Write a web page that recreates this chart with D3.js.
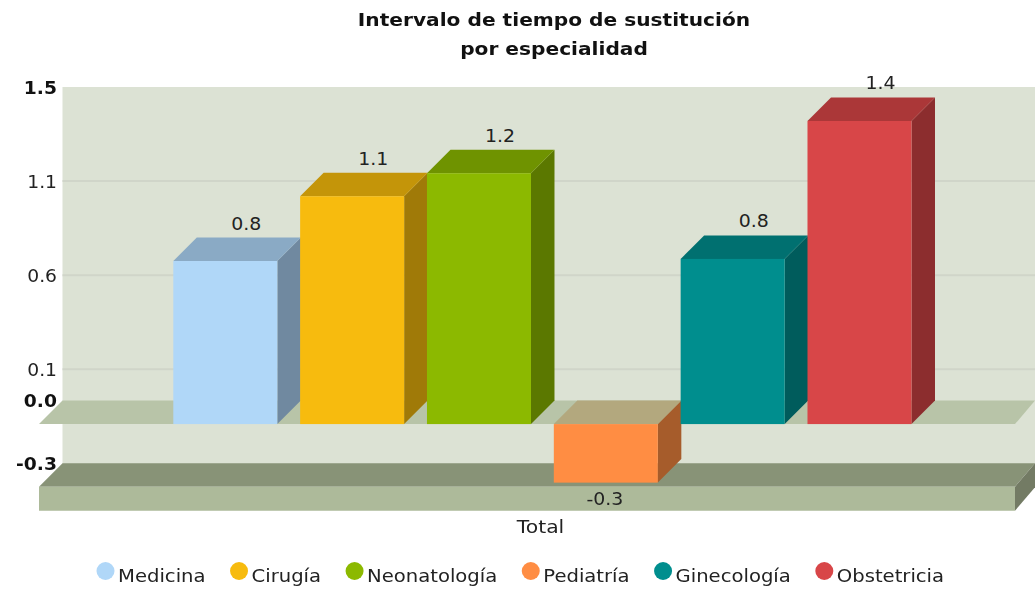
<!DOCTYPE html>
<html><head><meta charset="utf-8">
<script src="https://cdnjs.cloudflare.com/ajax/libs/d3/7.8.5/d3.min.js"></script>
<style>html,body{margin:0;padding:0;background:#fff}svg{display:block;filter:blur(0.35px)}text{font-family:"DejaVu Sans",sans-serif;fill:#222}</style>
</head><body><svg id="c" width="1035" height="589"></svg>
<script>
const titleLines = ["Intervalo de tiempo de sustitución", "por especialidad"];
const categoryLabel = "Total";
const seriesNames = ["Medicina","Cirugía","Neonatología","Pediatría","Ginecología","Obstetricia"];
const seriesValues = [0.78,1.09,1.2,-0.28,0.79,1.45];
const frontColors = ["#b0d7f8","#f7bb0e","#8cb900","#ff8d43","#008e8e","#d84648"];
const topColors = ["#8aaac5","#c49509","#6f9300","#b3a87e","#007070","#ab3738"];
const sideColors = ["#7089a0","#a07a08","#5b7800","#a65c2b","#005c5c","#8c2d2e"];
const gridTicks = [1.05,0.6,0.15];
const gridLabels = ["1.1","0.6","0.1"];
const boldTicks = [1.5,0,-0.3];
const boldLabels = ["1.5","0.0","-0.3"];

const svg = d3.select("#c");
const D = 23.5;
const wallL = 62.5, wallR = 1035;
const y = d3.scaleLinear().domain([-0.3,1.5]).range([463.3,87]);
const x = d3.scaleBand().domain(seriesNames).range([173.3,911.5]).paddingInner(0.18).paddingOuter(0);
const poly = (pts,fill) => svg.append("polygon").attr("points",pts.map(p=>p.join(",")).join(" ")).attr("fill",fill);
// wide-set text: the reference face is broader than the installed one
function label(px,py,str,size,anchor,sx,bold){
  const t = svg.append("text").attr("transform",`translate(${px},${py}) scale(${sx},1)`)
    .attr("text-anchor",anchor).attr("font-size",size).text(str);
  if(bold) t.attr("font-weight","bold").style("fill","#111");
  return t;
}

// back wall
svg.append("rect").attr("x",wallL).attr("y",y(1.5)).attr("width",wallR-wallL).attr("height",y(-0.3)-y(1.5)+2).attr("fill","#dce2d4");
// gridlines
svg.selectAll("line.g").data(gridTicks).enter().append("line")
 .attr("x1",wallL).attr("x2",wallR).attr("y1",d=>y(d)).attr("y2",d=>y(d)).attr("stroke","#d0d5c9").attr("stroke-width",2);
// base slab
const by = y(-0.3), bx0 = wallL-D, bx1 = wallR-20;
poly([[wallL,by],[wallR,by],[bx1,by+D],[bx0,by+D]],"#889377");
poly([[bx0,by+D],[bx1,by+D],[bx1,by+D+24],[bx0,by+D+24]],"#adba9a");
poly([[bx1,by+D],[wallR,by],[wallR,by+24],[bx1,by+D+24]],"#737b64");
// zero floor
const zy = y(0);
poly([[wallL,zy],[wallR,zy],[bx1,zy+D],[bx0,zy+D]],"#b8c4a8");

// bars
seriesNames.forEach((s,i)=>{
  const v = seriesValues[i], x0 = x(s), x1 = x0+x.bandwidth();
  const f0 = zy+D, fv = y(v)+D;
  const top = Math.min(f0,fv), bot = Math.max(f0,fv);
  poly([[x1,top],[x1+D,top-D],[x1+D,bot-D],[x1,bot]],sideColors[i]);
  poly([[x0,top],[x1,top],[x1+D,top-D],[x0+D,top-D]],topColors[i]);
  svg.append("rect").attr("x",x0).attr("y",top).attr("width",x1-x0).attr("height",bot-top).attr("fill",frontColors[i]);
  const lx = v>=0 ? (x0+x1)/2+21 : (x0+x1)/2-1;
  const ly = v>=0 ? top-D-8 : bot+22;
  label(lx,ly,d3.format(".1f")(v).replace("−","-"),18,"middle",1.05);
});

// tick labels
gridTicks.forEach((t,i)=>label(57,y(t)+6.5,gridLabels[i],18,"end",1.04));
boldTicks.forEach((t,i)=>label(57,y(t)+6.5,boldLabels[i],18,"end",1.04,true));

// titles
titleLines.forEach((t,i)=>label(554,26+i*29,t,18.5,"middle",1.09,true));
label(540.5,533,categoryLabel,18,"middle",1.13);

// legend
let lx = 97;
const legendStretch = 1.09;
seriesNames.forEach((s,i)=>{
  svg.append("circle").attr("cx",lx+8.5).attr("cy",571).attr("r",9).attr("fill",frontColors[i]);
  const t = label(lx+21,582,s,18,"start",legendStretch);
  lx += 21 + t.node().getComputedTextLength()*legendStretch + 25;
});
</script></body></html>
